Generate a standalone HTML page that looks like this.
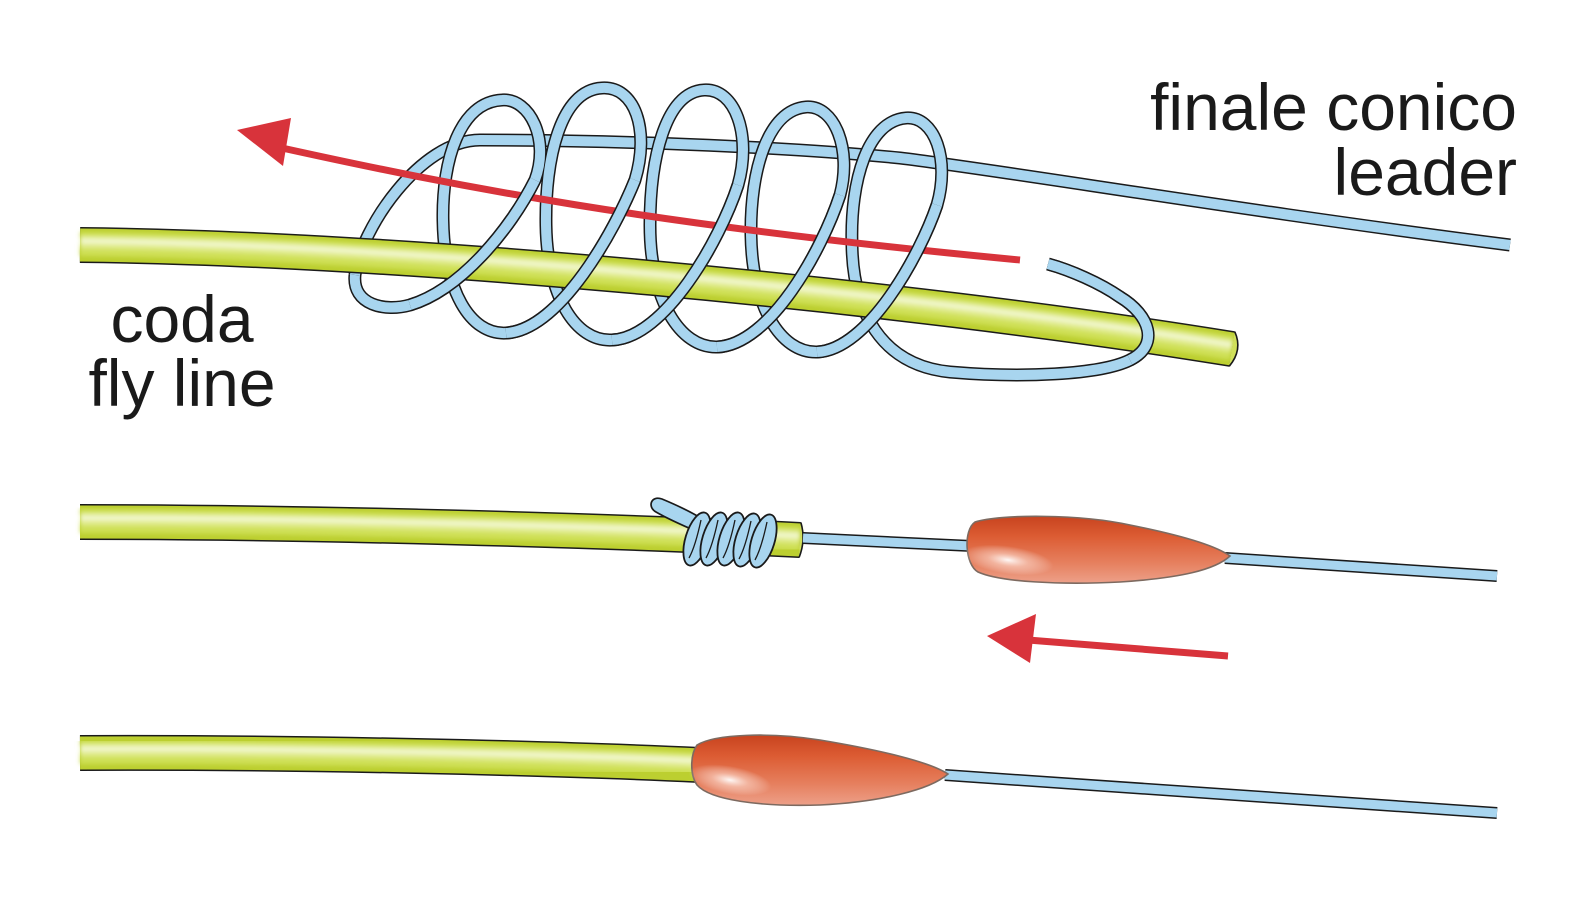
<!DOCTYPE html>
<html>
<head>
<meta charset="utf-8">
<style>
  html,body{margin:0;padding:0;background:#fff;}
  svg{display:block;}
  text{font-family:"Liberation Sans", Arial, sans-serif;fill:#1a1a1a;}
</style>
</head>
<body>
<svg width="1578" height="906" viewBox="0 0 1578 906" xmlns="http://www.w3.org/2000/svg">
  <defs>
    <path id="g1" fill="none" d="M 80 245 C 400 248, 900 295, 1232 349"/>
    <path id="g2" fill="none" d="M 80 522 C 300 522, 600 530, 800 540"/>
    <path id="g3" fill="none" d="M 80 753 C 300 752, 550 758, 700 765"/>

    <path id="tl" fill="none" d="M 1510 245 C 1250 212, 1000 170, 900 158 C 780 146, 600 140, 480 140
      C 420 140, 360 230, 355 275"/>

    <path id="hx" fill="none" d="M 355 275
      C 352 305, 385 312, 410 305
      C 460 290, 510 230, 535 180
      C 550 140, 530 98, 502 100
      C 460 102, 442 160, 443 220
      C 444 290, 470 335, 506 333
      C 560 330, 615 230, 635 180
      C 650 130, 635 86, 602 88
      C 560 90, 545 160, 546 225
      C 547 295, 575 342, 612 340
      C 665 338, 720 240, 738 185
      C 752 135, 735 88, 704 90
      C 665 92, 650 160, 650 225
      C 650 300, 680 348, 717 347
      C 770 345, 822 250, 840 195
      C 852 150, 835 105, 806 107
      C 768 110, 750 170, 751 235
      C 752 305, 780 353, 817 352
      C 868 350, 920 255, 937 205
      C 950 160, 935 116, 906 118
      C 868 121, 850 180, 852 245
      C 853 310, 880 365, 950 372
      C 1020 378, 1100 375, 1130 360
      C 1160 345, 1150 315, 1120 297
      C 1100 283, 1070 270, 1048 264"/>

    <path id="fr" fill="none" d="M 410 305 C 460 290, 510 230, 535 180
      M 506 333 C 560 330, 615 230, 635 180
      M 612 340 C 665 338, 720 240, 738 185
      M 717 347 C 770 345, 822 250, 840 195
      M 817 352 C 868 350, 920 255, 937 205
      M 1130 360 C 1160 345, 1150 315, 1120 297 C 1100 283, 1070 270, 1048 264"/>

    <linearGradient id="bulbBase" x1="0" y1="0" x2="0" y2="1">
      <stop offset="0" stop-color="#c8431f"/>
      <stop offset="0.3" stop-color="#dc5c33"/>
      <stop offset="0.7" stop-color="#e6805f"/>
      <stop offset="1" stop-color="#eda089"/>
    </linearGradient>
    <radialGradient id="hl" cx="0.5" cy="0.5" r="0.5">
      <stop offset="0" stop-color="#ffffff" stop-opacity="0.95"/>
      <stop offset="0.45" stop-color="#ffe6dc" stop-opacity="0.5"/>
      <stop offset="1" stop-color="#ffffff" stop-opacity="0"/>
    </radialGradient>
    <filter id="blur2" x="-5%" y="-50%" width="110%" height="200%">
      <feGaussianBlur stdDeviation="2"/>
    </filter>
  </defs>

  <!-- ===== TOP: leader top line, then loops (back parts) ===== -->
  <use href="#tl" stroke="#1a1a1a" stroke-width="13" stroke-linejoin="round"/>
  <use href="#tl" stroke="#a8d5ef" stroke-width="10" stroke-linejoin="round"/>
  <use href="#hx" stroke="#1a1a1a" stroke-width="13" stroke-linejoin="round"/>
  <use href="#hx" stroke="#a8d5ef" stroke-width="10" stroke-linejoin="round"/>

  <!-- green fly line top -->
  <use href="#g1" stroke="#1a1a1a" stroke-width="36"/>
  <use href="#g1" stroke="#bccf30" stroke-width="33"/>
  <g filter="url(#blur2)">
    <use href="#g1" stroke="#cfe056" stroke-width="24" transform="translate(0,-1)"/>
    <use href="#g1" stroke="#e0eb8a" stroke-width="13" transform="translate(0,-3)"/>
    <use href="#g1" stroke="#f1f7cc" stroke-width="5" transform="translate(0,-4)"/>
  </g>
  <path d="M 1234.8 331.7 Q 1243 350 1229.2 366.3" fill="#d0e05a" stroke="#1a1a1a" stroke-width="1.6"/>

  <!-- red arrow 1 -->
  <path d="M 282 148 C 450 185, 650 225, 1020 260" fill="none" stroke="#d8333b" stroke-width="7"/>
  <polygon points="237,130 291,118 283,166" fill="#d8333b"/>

  <!-- front parts of helix -->
  <use href="#fr" stroke="#1a1a1a" stroke-width="13" stroke-linejoin="round"/>
  <use href="#fr" stroke="#a8d5ef" stroke-width="10" stroke-linejoin="round"/>

  <!-- ===== ROW 2 ===== -->
  <use href="#g2" stroke="#1a1a1a" stroke-width="36"/>
  <use href="#g2" stroke="#bccf30" stroke-width="33"/>
  <g filter="url(#blur2)">
    <use href="#g2" stroke="#cfe056" stroke-width="24" transform="translate(0,-1)"/>
    <use href="#g2" stroke="#e0eb8a" stroke-width="13" transform="translate(0,-3)"/>
    <use href="#g2" stroke="#f1f7cc" stroke-width="5" transform="translate(0,-4)"/>
  </g>
  <path d="M 800.9 522.5 Q 806 540 799.1 557.5" fill="#d0e05a" stroke="#1a1a1a" stroke-width="1.6"/>

  <!-- thin leader row 2 -->
  <path d="M 803 538 L 972 546" stroke="#1a1a1a" stroke-width="12" fill="none"/>
  <path d="M 803 538 L 972 546" stroke="#a8d5ef" stroke-width="9" fill="none"/>
  <path d="M 1225 558 L 1497 576" stroke="#1a1a1a" stroke-width="12" fill="none"/>
  <path d="M 1225 558 L 1497 576" stroke="#a8d5ef" stroke-width="9" fill="none"/>

  <!-- tongue -->
  <path d="M 704 520 C 690 511, 674 504, 662 499 C 651 495, 647 507, 656 512 C 668 519, 684 526, 698 532 Z" fill="#a8d5ef" stroke="#1a1a1a" stroke-width="1.7"/>
  <!-- small coil -->
  <g fill="#a8d5ef" stroke="#1a1a1a" stroke-width="1.8">
    <ellipse cx="697" cy="539" rx="11.5" ry="27.5" transform="rotate(17 697 539)"/>
    <path d="M 701 520 C 698 534, 694 549, 689 558" fill="none" stroke-width="1.3"/>
    <ellipse cx="714" cy="539" rx="11.5" ry="27.5" transform="rotate(17 714 539)"/>
    <path d="M 718 520 C 715 534, 711 549, 706 558" fill="none" stroke-width="1.3"/>
    <ellipse cx="731" cy="539" rx="11.5" ry="27.5" transform="rotate(17 731 539)"/>
    <path d="M 735 520 C 732 534, 728 549, 723 558" fill="none" stroke-width="1.3"/>
    <ellipse cx="747" cy="540" rx="11.5" ry="27.5" transform="rotate(17 747 540)"/>
    <path d="M 751 521 C 748 535, 744 550, 739 559" fill="none" stroke-width="1.3"/>
    <ellipse cx="763" cy="541" rx="11.5" ry="27.5" transform="rotate(17 763 541)"/>
    <path d="M 767 522 C 764 536, 760 551, 755 560" fill="none" stroke-width="1.3"/>
  </g>

  <!-- bulb row 2 -->
  <path d="M 975 522 C 1000 514, 1080 514, 1130 525 C 1180 535, 1215 545, 1230 556 C 1215 570, 1180 578, 1120 582 C 1060 585, 1000 582, 978 572 C 965 565, 963 530, 975 522 Z" fill="url(#bulbBase)" stroke="#7d6a60" stroke-width="1.6"/>
  <ellipse cx="1008" cy="560" rx="46" ry="14" transform="rotate(8 1008 560)" fill="url(#hl)"/>

  <!-- red arrow 2 -->
  <path d="M 1228 656 L 1028 640" stroke="#d8333b" stroke-width="7" fill="none"/>
  <polygon points="987,636 1036,614 1030,663" fill="#d8333b"/>

  <!-- ===== ROW 3 ===== -->
  <path d="M 945 775 L 1497 813" stroke="#1a1a1a" stroke-width="12" fill="none"/>
  <path d="M 945 775 L 1497 813" stroke="#a8d5ef" stroke-width="9" fill="none"/>

  <use href="#g3" stroke="#1a1a1a" stroke-width="36"/>
  <use href="#g3" stroke="#bccf30" stroke-width="33"/>
  <g filter="url(#blur2)">
    <use href="#g3" stroke="#cfe056" stroke-width="24" transform="translate(0,-1)"/>
    <use href="#g3" stroke="#e0eb8a" stroke-width="13" transform="translate(0,-3)"/>
    <use href="#g3" stroke="#f1f7cc" stroke-width="5" transform="translate(0,-4)"/>
  </g>

  <!-- bulb row 3 -->
  <path d="M 697 745 C 715 734, 770 732, 820 740 C 880 750, 930 762, 948 774 C 930 790, 880 802, 820 805 C 760 807, 710 800, 697 785 C 690 775, 690 755, 697 745 Z" fill="url(#bulbBase)" stroke="#7d6a60" stroke-width="1.6"/>
  <ellipse cx="730" cy="780" rx="42" ry="14" transform="rotate(10 730 780)" fill="url(#hl)"/>

  <!-- ===== LABELS ===== -->
  <text x="1517" y="130" font-size="66" text-anchor="end">finale conico</text>
  <text x="1517" y="195" font-size="66" text-anchor="end">leader</text>
  <text x="182" y="342" font-size="66" text-anchor="middle">coda</text>
  <text x="182" y="406" font-size="66" text-anchor="middle">fly line</text>
</svg>
</body>
</html>
